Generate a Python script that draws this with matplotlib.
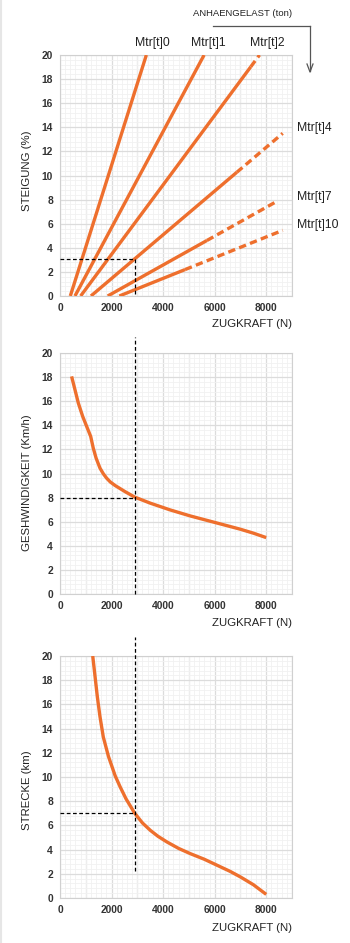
import matplotlib
matplotlib.use("Agg")
import matplotlib.pyplot as plt
from matplotlib.lines import Line2D
from matplotlib.ticker import MultipleLocator

plt.rcParams['font.family'] = ['Liberation Sans', 'DejaVu Sans']

# ---------------- data ----------------
# Top chart: grade (%) vs. traction force (N), one straight line per trailer load
load_labels = ["Mtr[t]0", "Mtr[t]1", "Mtr[t]2", "Mtr[t]4", "Mtr[t]7", "Mtr[t]10"]
line_start_force = [400, 580, 800, 1200, 1850, 2300]      # force at 0 %
line_end_force = [3350, 5590, 7740, 8640, 8450, 8640]      # force at line end
line_end_grade = [20, 20, 20, 13.5, 7.9, 5.45]             # grade at line end
line_solid_until = [3350, 5590, 7400, 6860, 5700, 4850]    # solid part ends here, dashed afterwards

# reference point
ref_force = 2900
ref_grade = 3.1
ref_speed = 8.0
ref_distance = 7.0

# Middle chart: speed (km/h) vs. force
speed_force = [450, 580, 710, 880, 1060, 1190, 1290, 1400, 1550, 1680, 1810, 1950, 2140, 2520, 2900,
               3500, 4270, 5050, 6020, 6990, 7500, 8000]
speed_kmh = [18.06, 16.96, 15.85, 14.74, 13.77, 13.08, 12.11, 11.28, 10.45, 9.98, 9.61, 9.3, 9.0, 8.5, 8.04,
             7.54, 6.98, 6.48, 5.93, 5.38, 5.05, 4.68]

# Bottom chart: distance (km) vs. force
dist_force = [1270, 1360, 1450, 1550, 1680, 1880, 2140, 2330, 2560, 2900,
              3200, 3500, 3800, 4150, 4600, 5050, 5600, 6100, 6600, 7000, 7500, 8000]
dist_km = [20.0, 18.3, 16.6, 15.0, 13.3, 11.7, 10.1, 9.2, 8.2, 7.0,
           6.2, 5.6, 5.1, 4.63, 4.1, 3.67, 3.2, 2.7, 2.2, 1.74, 1.1, 0.3]

x_ticks = [0, 2000, 4000, 6000, 8000]
y_ticks = list(range(0, 21, 2))

# ---------------- style ----------------
W, H = 350, 943
ORANGE = "#EE6F2D"
LW = 2.4
fig = plt.figure(figsize=(W / 100, H / 100), dpi=100)
fig.patch.set_facecolor("white")


def fx(px):
    return px / W


def fy(py):
    return 1 - py / H


def make_axes(top_px, bottom_px):
    ax = fig.add_axes([fx(60), fy(bottom_px), fx(292) - fx(60), fy(top_px) - fy(bottom_px)])
    ax.set_xlim(0, 9000)
    ax.set_ylim(0, 20)
    ax.xaxis.set_minor_locator(MultipleLocator(200))
    ax.yaxis.set_minor_locator(MultipleLocator(0.4))
    ax.grid(True, which="minor", color="#f1f1f1", lw=0.6)
    ax.grid(True, which="major", color="#dcdcdc", lw=0.9)
    ax.set_xticks(x_ticks)
    ax.set_yticks(y_ticks)
    for v in range(1000, 9001, 2000):
        ax.axvline(v, color="#dcdcdc", lw=0.9, zorder=0)
    ax.set_axisbelow(True)
    for s in ax.spines.values():
        s.set_color("#d0d0d0")
        s.set_linewidth(0.8)
    ax.tick_params(which="both", length=0, labelsize=7.4, colors="#333333", pad=5)
    for lab in ax.get_xticklabels() + ax.get_yticklabels():
        lab.set_fontweight("bold")
    return ax


def xlabel(text, py):
    fig.text(fx(292), fy(py), text, ha="right", va="center", fontsize=8.2, color="#222222")


def ylabel(text, py):
    fig.text(fx(27), fy(py), text, ha="center", va="center", rotation=90, fontsize=8.2, color="#222222")


# ---------------- top chart ----------------
ax1 = make_axes(55, 296)
for x0, x1, y1, xs in zip(line_start_force, line_end_force, line_end_grade, line_solid_until):
    slope = y1 / (x1 - x0)
    ys = (xs - x0) * slope
    ax1.plot([x0, xs], [0, ys], color=ORANGE, lw=LW, solid_capstyle="butt", zorder=3)
    if xs < x1:
        ax1.plot([xs, x1], [ys, y1], color=ORANGE, lw=LW, dashes=(2.2, 1.3), zorder=3)
ax1.plot([0, ref_force, ref_force], [ref_grade, ref_grade, 0], color="black", lw=0.9,
         dashes=(3, 2), zorder=4)
ylabel("STEIGUNG (%)", 171)
xlabel("ZUGKRAFT (N)", 324)

label_pos = [(152, 43, "center"), (208, 43, "center"), (267, 43, "center"),
             (297, 128, "left"), (297, 197, "left"), (297, 225, "left")]
for lab, (px, py, ha) in zip(load_labels, label_pos):
    fig.text(fx(px), fy(py), lab, ha=ha, va="center", fontsize=8.8, color="#222222")

fig.text(fx(243), fy(13), "ANHAENGELAST (ton)", ha="center", va="center", fontsize=6.8, color="#222222")
fig.add_artist(Line2D([fx(213), fx(310)], [fy(26), fy(26)], color="#555555", lw=0.9))
fig.add_artist(Line2D([fx(310), fx(310)], [fy(26), fy(71)], color="#555555", lw=0.9))
fig.add_artist(Line2D([fx(307), fx(310), fx(313)], [fy(64), fy(72), fy(64)], color="#555555", lw=0.9))

# ---------------- middle chart ----------------
ax2 = make_axes(353, 594)
ax2.plot(speed_force, speed_kmh, color=ORANGE, lw=LW, solid_capstyle="butt",
         solid_joinstyle="round", zorder=3)
ax2.plot([0, ref_force], [ref_speed, ref_speed], color="black", lw=0.9, dashes=(3, 2), zorder=4)
ax2.plot([ref_force, ref_force], [0, 21.3], color="black", lw=0.9, dashes=(3, 2), zorder=4,
         clip_on=False)
ylabel("GESHWINDIGKEIT (Km/h)", 483)
xlabel("ZUGKRAFT (N)", 623)

# ---------------- bottom chart ----------------
ax3 = make_axes(656, 898)
ax3.plot(dist_force, dist_km, color=ORANGE, lw=LW, solid_capstyle="butt",
         solid_joinstyle="round", zorder=3)
ax3.plot([0, ref_force], [ref_distance, ref_distance], color="black", lw=0.9, dashes=(3, 2), zorder=4)
ax3.plot([ref_force, ref_force], [2.2, 21.6], color="black", lw=0.9, dashes=(3, 2), zorder=4,
         clip_on=False)
ylabel("STRECKE (km)", 790)
xlabel("ZUGKRAFT (N)", 928)

# faint left border strip
fig.add_artist(Line2D([0.002, 0.002], [0, 1], color="#e6e6e6", lw=1.5))

fig.savefig("out.png", dpi=100, facecolor="white")
